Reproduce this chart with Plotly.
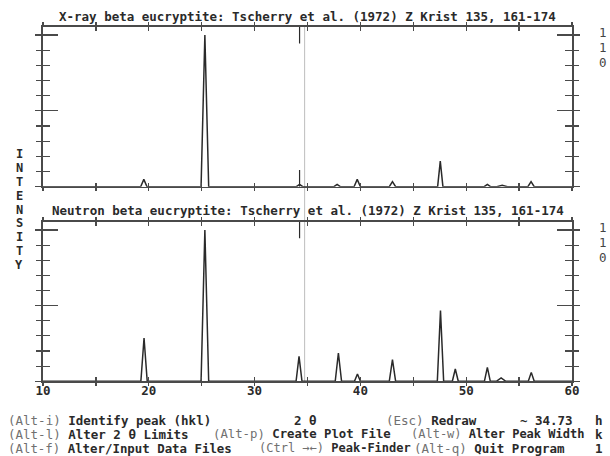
import plotly.graph_objects as go

# ---------------- data ----------------
two_theta_range = [10, 60]
x_tick_vals = [10, 15, 20, 25, 30, 35, 40, 45, 50, 55, 60]
x_tick_text = ["10", "", "20", "", "30", "", "40", "", "50", "", "60"]
y_major = [0, 50, 100]
y_minor = [10, 20, 30, 40, 60, 70, 80, 90]

# X-ray pattern: peak positions (2 theta), relative intensities (%), half-widths
xray_pos = [19.53, 25.30, 34.25, 37.80, 39.70, 43.03, 47.55, 52.00, 53.40, 56.13]
xray_int = [4.8, 100.0, 1.5, 1.5, 4.8, 3.3, 16.9, 1.5, 1.0, 3.3]
xray_hw = [0.30, 0.36, 0.30, 0.30, 0.30, 0.30, 0.25, 0.30, 0.50, 0.30]

# Neutron pattern
neut_pos = [19.55, 25.30, 34.20, 37.92, 39.72, 43.03, 47.57, 48.97, 52.00, 53.30, 56.15]
neut_int = [28.6, 100.0, 16.5, 18.7, 4.8, 14.3, 46.8, 8.1, 9.2, 2.2, 5.9]
neut_hw = [0.30, 0.36, 0.28, 0.30, 0.28, 0.30, 0.30, 0.28, 0.28, 0.45, 0.28]

cursor_2theta = 34.73          # grey cursor line
marker_2theta = 34.25          # dark peak-finder marker
marker_len = 11.0              # % of full scale

x_title = "X-ray beta eucryptite: Tscherry et al. (1972) Z Krist 135, 161-174"
n_title = "Neutron beta eucryptite: Tscherry et al. (1972) Z Krist 135, 161-174"
side_label = list("INTENSITY")
scale_label = ["1", "1", "0"]

# (x position px, key, description, font size)
menu_lines = [
    [(7, "(Alt-i)", " Identify peak (hkl)", 12.5), (293, "", "2 θ", 12.5),
     (385, "(Esc)", " Redraw", 12.5), (519, "", "~", 12.5), (534, "", "34.73", 12.5),
     (594, "", "h", 12.5)],
    [(7, "(Alt-l)", " Alter 2 θ Limits", 12.5), (212, "(Alt-p)", " Create Plot File", 12.3),
     (410, "(Alt-w)", " Alter Peak Width", 12), (594, "", "k", 12.5)],
    [(7, "(Alt-f)", " Alter/Input Data Files", 12.4), (258, "(Ctrl →←)", " Peak-Finder", 12),
     (413, "(Alt-q)", " Quit Program", 12.5), (594, "", "1", 12.5)],
]
menu_y = [420, 434, 448]


# --------------- profile from the peak list (triangular peaks) ---------------
def profile(pos, inten, hw):
    xs = set(two_theta_range)
    for p, w in zip(pos, hw):
        xs.update([p - w, p, p + w])
    xs = sorted(xs)
    ys = []
    for x in xs:
        s = 0.0
        for p, h, w in zip(pos, inten, hw):
            d = abs(x - p)
            if d < w:
                s += h * (1 - d / w)
        ys.append(s)
    return xs, ys


W, H = 610, 456
L, R = 43, 38
YMAX = 105.47
top_dom = [1 - 186.7 / H, 1 - 26.7 / H]
bot_dom = [1 - 381.3 / H, 1 - 221.7 / H]


def px_x(px):
    return (px - L) / (W - L - R)


def px_y(py):
    return 1 - py / H


FONT = "DejaVu Sans Mono"
INK = "#2a2a2a"
AXC = "#4a4a4a"

fig = go.Figure()

xx, xy = profile(xray_pos, xray_int, xray_hw)
nx, ny = profile(neut_pos, neut_int, neut_hw)
fig.add_trace(go.Scatter(x=xx, y=xy, mode="lines", line=dict(color=INK, width=1.5),
                         xaxis="x", yaxis="y", showlegend=False, hoverinfo="skip"))
fig.add_trace(go.Scatter(x=nx, y=ny, mode="lines", line=dict(color=INK, width=1.5),
                         xaxis="x2", yaxis="y2", showlegend=False, hoverinfo="skip"))

# peak-finder markers
mk_x = [marker_2theta, marker_2theta, None, marker_2theta, marker_2theta]
mk_y = [YMAX, YMAX - marker_len, None, 0, marker_len]
fig.add_trace(go.Scatter(x=mk_x, y=mk_y, mode="lines", line=dict(color=INK, width=1.2),
                         xaxis="x", yaxis="y", showlegend=False, hoverinfo="skip"))
fig.add_trace(go.Scatter(x=mk_x[:2], y=mk_y[:2], mode="lines", line=dict(color=INK, width=1.2),
                         xaxis="x2", yaxis="y2", showlegend=False, hoverinfo="skip"))

# invisible traces to activate overlay (inner-tick) axes
for xa, ya in [("x3", "y3"), ("x4", "y4")]:
    fig.add_trace(go.Scatter(x=[10], y=[0], mode="markers", marker=dict(opacity=0),
                             xaxis=xa, yaxis=ya, showlegend=False, hoverinfo="skip"))


def xaxis(anchor, labels=False, overlay=None, inside=False):
    d = dict(range=two_theta_range, anchor=anchor, showline=True, linecolor=AXC, linewidth=1.6,
             mirror="ticks", ticks="inside" if inside else "outside",
             ticklen=4 if inside else 3, tickwidth=1.2, tickcolor=AXC,
             tickvals=x_tick_vals, ticktext=x_tick_text, showgrid=False, zeroline=False,
             showticklabels=labels, fixedrange=True)
    if labels:
        d["tickfont"] = dict(family=FONT, size=12.5, color=INK, weight=700)
        d["ticklabelstandoff"] = -6
    if overlay:
        d["overlaying"] = overlay
    return d


def yaxis(anchor, domain, overlay=None, inside=False):
    d = dict(range=[0, YMAX], anchor=anchor, showline=True, linecolor=AXC, linewidth=1.6,
             mirror="ticks", ticks="inside" if inside else "outside",
             ticklen=15 if inside else 6, tickwidth=1.2, tickcolor=AXC,
             tickvals=y_major, showgrid=False, zeroline=False, showticklabels=False,
             minor=dict(tickvals=y_minor, ticks="inside" if inside else "outside",
                        ticklen=7 if inside else 5, tickwidth=1.2, tickcolor=AXC, showgrid=False),
             fixedrange=True)
    if overlay:
        d["overlaying"] = overlay
    else:
        d["domain"] = domain
    return d


annotations = []
annotations.append(dict(x=0.5, y=px_y(16.7), xref="paper", yref="paper", text=x_title,
                        showarrow=False, xanchor="center", yanchor="middle",
                        font=dict(family=FONT, size=12.5, color=INK, weight=700)))
annotations.append(dict(x=0.5, y=px_y(210.7), xref="paper", yref="paper", text=n_title,
                        showarrow=False, xanchor="center", yanchor="middle",
                        font=dict(family=FONT, size=12.5, color=INK, weight=700)))
for i, ch in enumerate(side_label):
    annotations.append(dict(x=px_x(19), y=px_y(154 + 13.9 * i), xref="paper", yref="paper",
                            text=ch, showarrow=False, xanchor="center", yanchor="middle",
                            borderpad=0,
                            font=dict(family=FONT, size=12, color=INK, weight=700)))
for top in (26.7, 221.7):
    for i, ch in enumerate(scale_label):
        annotations.append(dict(x=px_x(603), y=px_y(top + 5.8 + 15.2 * i), xref="paper",
                                yref="paper", text=ch, showarrow=False, xanchor="center",
                                yanchor="middle", borderpad=0,
                                font=dict(family=FONT, size=12.5, color="#444")))
for line, yy in zip(menu_lines, menu_y):
    for xpx, key, desc, fs in line:
        txt = ""
        if key:
            txt += "<span style='color:#707070;font-weight:400'>" + key + "</span>"
        txt += "<b>" + desc + "</b>" if desc.strip() else desc
        annotations.append(dict(x=px_x(xpx), y=px_y(yy), xref="paper", yref="paper",
                                text=txt, showarrow=False, xanchor="left", yanchor="middle",
                                borderpad=0,
                                font=dict(family=FONT, size=fs, color=INK)))

fig.update_layout(
    width=W, height=H, margin=dict(l=L, r=R, t=0, b=0),
    paper_bgcolor="white", plot_bgcolor="white",
    xaxis=xaxis("y"),
    yaxis=yaxis("x", top_dom),
    xaxis2=xaxis("y2", labels=True),
    yaxis2=yaxis("x2", bot_dom),
    xaxis3=xaxis("y", overlay="x", inside=True),
    yaxis3=yaxis("x", top_dom, overlay="y", inside=True),
    xaxis4=xaxis("y2", overlay="x2", inside=True),
    yaxis4=yaxis("x2", bot_dom, overlay="y2", inside=True),
    annotations=annotations,
    shapes=[dict(type="line", xref="x", yref="paper", x0=cursor_2theta, x1=cursor_2theta,
                 y0=bot_dom[0], y1=top_dom[1], line=dict(color="#bdbdbd", width=1), layer="below")],
)

fig.write_html("out.html", config={"displayModeBar": False, "staticPlot": True},
               post_script="document.body.style.margin='0';document.body.style.overflow='hidden';")
